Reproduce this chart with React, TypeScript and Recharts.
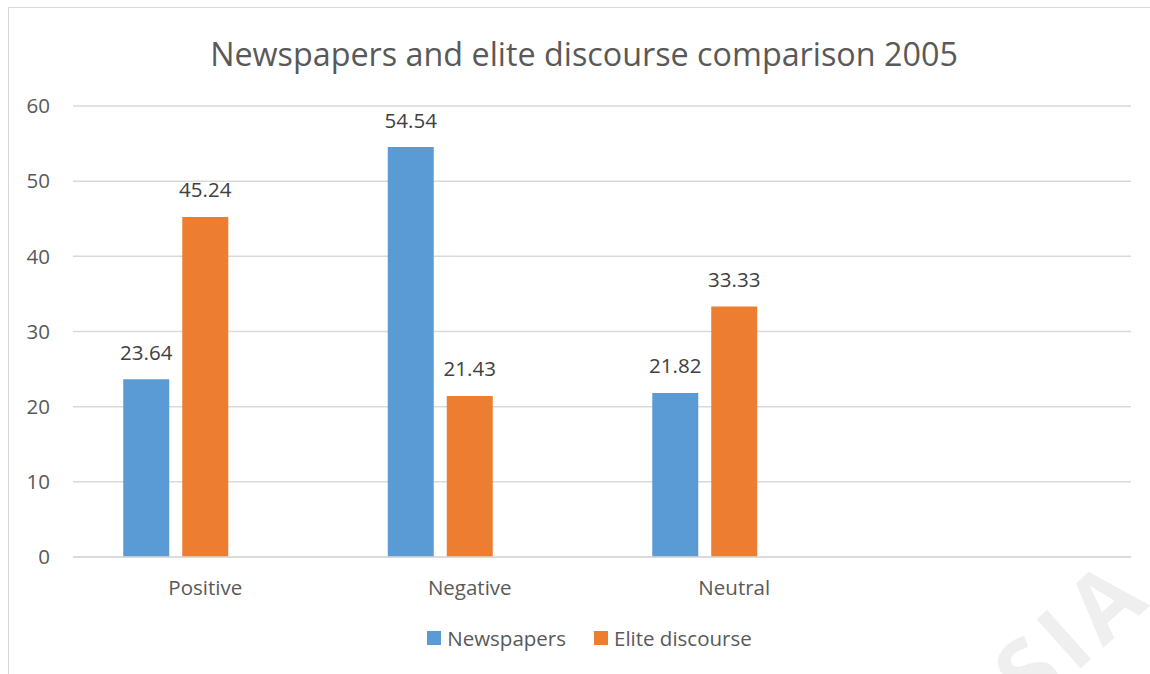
import { Bar, BarChart, CartesianGrid, LabelList, Legend, XAxis, YAxis } from "recharts";

const CATEGORIES = ["Positive", "Negative", "Neutral", ""];
const NEWSPAPERS = [23.64, 54.54, 21.82, null];
const ELITE = [45.24, 21.43, 33.33, null];
const Y_TICKS = [0, 10, 20, 30, 40, 50, 60];
const SERIES = [
  { key: "newspapers", name: "Newspapers", color: "#5b9bd5" },
  { key: "elite", name: "Elite discourse", color: "#ed7d31" },
];

const FONT = '"Open Sans", "Noto Sans", sans-serif';
const INK = "#595959";

const data = CATEGORIES.map((name, i) => ({
  name,
  newspapers: NEWSPAPERS[i],
  elite: ELITE[i],
  blank: null,
}));

const fmt = (v: unknown) => (v == null ? "" : (v as number).toFixed(2));

function LegendBox() {
  return (
    <div
      style={{
        display: "flex",
        justifyContent: "center",
        gap: 28,
        paddingLeft: 39,
        fontSize: 20.5,
        color: INK,
        fontFamily: FONT,
      }}
    >
      {SERIES.map((s) => (
        <span key={s.key} style={{ display: "flex", alignItems: "center" }}>
          <span style={{ width: 14, height: 14, background: s.color, marginRight: 6 }} />
          {s.name}
        </span>
      ))}
    </div>
  );
}

export default function App() {
  return (
    <div
      style={{
        position: "absolute",
        left: 8,
        top: 7,
        width: 1200,
        height: 720,
        border: "1px solid #d9d9d9",
        overflow: "hidden",
        background: "#fff",
        fontFamily: FONT,
      }}
    >
      <div
        style={{
          position: "absolute",
          left: 0,
          width: 1150,
          top: 23,
          textAlign: "center",
          fontSize: 32.3,
          color: INK,
        }}
      >
        Newspapers and elite discourse comparison 2005
      </div>
      <div
        style={{
          position: "absolute",
          left: 1040,
          top: 600,
          fontSize: 92,
          fontWeight: 700,
          color: "#efefef",
          transform: "rotate(-42deg)",
          transformOrigin: "left bottom",
          letterSpacing: 8,
        }}
      >
        SIA
      </div>
      <BarChart
        width={1141}
        height={666}
        data={data}
        margin={{ top: 98, right: 19, left: 0, bottom: 27 }}
        barCategoryGap="19%"
        barGap={13}
        style={{ position: "absolute", left: 0, top: 0 }}
      >
        <CartesianGrid stroke="#d9d9d9" strokeWidth={1.5} vertical={false} />
        <XAxis
          dataKey="name"
          axisLine={{ stroke: "#d9d9d9", strokeWidth: 1.5 }}
          tickLine={false}
          tickSize={0}
          tickMargin={23}
          height={62}
          tick={{ fontSize: 20.5, fill: INK, fontFamily: FONT }}
        />
        <YAxis
          domain={[0, 60]}
          ticks={Y_TICKS}
          axisLine={false}
          tickLine={false}
          tickSize={0}
          tickMargin={23}
          width={64}
          tick={{ fontSize: 20.5, fill: INK, fontFamily: FONT }}
        />
        <Legend verticalAlign="bottom" content={<LegendBox />} wrapperStyle={{ bottom: 22 }} />
        {SERIES.map((s) => (
          <Bar key={s.key} dataKey={s.key} name={s.name} fill={s.color} isAnimationActive={false}>
            <LabelList
              dataKey={s.key}
              position="top"
              offset={19.5}
              formatter={fmt}
              style={{ fontSize: 20.5, fill: "#404040", fontFamily: FONT }}
            />
          </Bar>
        ))}
        <Bar dataKey="blank" legendType="none" fill="#a5a5a5" isAnimationActive={false} />
      </BarChart>
    </div>
  );
}
